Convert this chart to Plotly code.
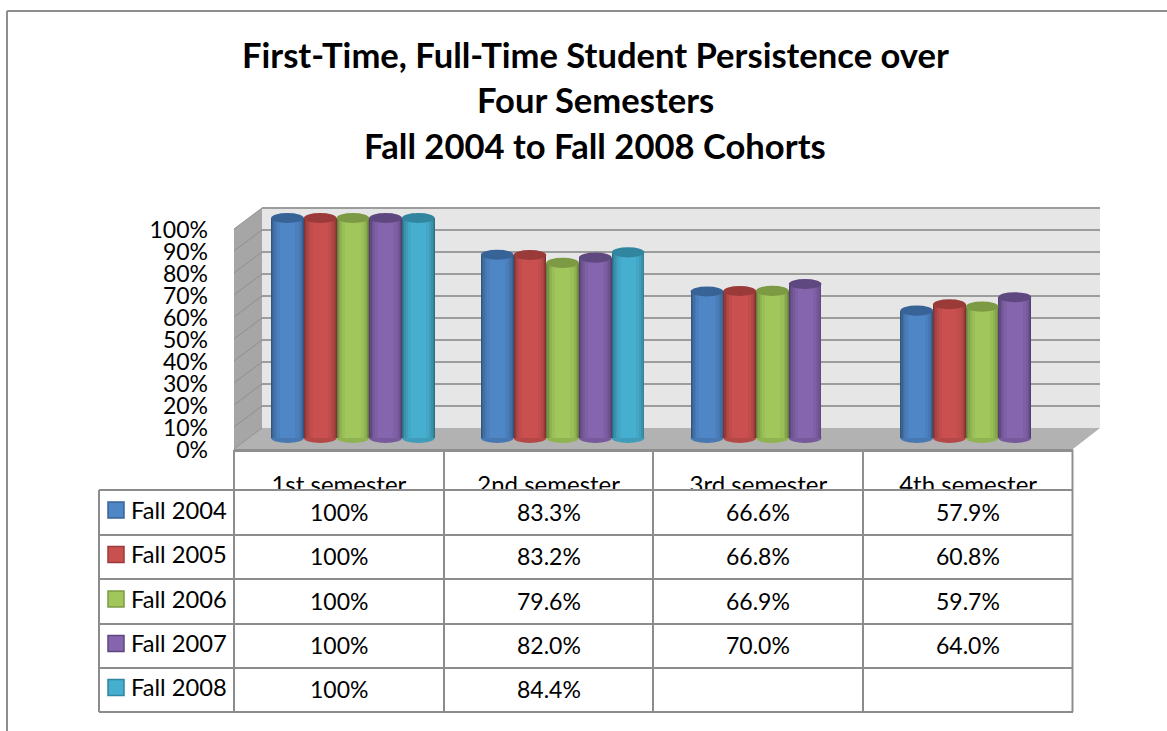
import plotly.graph_objects as go

W, H = 1167, 731
FONT = "Lato"

title_lines = ["First-Time, Full-Time Student Persistence over", "Four Semesters", "Fall 2004 to Fall 2008 Cohorts"]
categories = ["1st semester", "2nd semester", "3rd semester", "4th semester"]
series_names = ["Fall 2004", "Fall 2005", "Fall 2006", "Fall 2007", "Fall 2008"]
fall_2004 = [100, 83.3, 66.6, 57.9]
fall_2005 = [100, 83.2, 66.8, 60.8]
fall_2006 = [100, 79.6, 66.9, 59.7]
fall_2007 = [100, 82.0, 70.0, 64.0]
fall_2008 = [100, 84.4, None, None]
series_values = [fall_2004, fall_2005, fall_2006, fall_2007, fall_2008]
colors = ["#4F86C6", "#C9504F", "#A1C75C", "#8465AE", "#46AFCF"]
tops = ["#386397", "#9A3B39", "#7C9A43", "#5F4880", "#31859F"]
y_ticks = list(range(0, 101, 10))

# ---- layout geometry in pixels
def px(x): return x / W
def py(y): return 1 - y / H
def darken(c, f):
    r, g, b = int(c[1:3], 16), int(c[3:5], 16), int(c[5:7], 16)
    return "#%02x%02x%02x" % (int(r * (1 - f)), int(g * (1 - f)), int(b * (1 - f)))

def line(x0, y0, x1, y1, color="#8C8C8C", width=2, layer="below"):
    return dict(type="line", xref="paper", yref="paper", x0=px(x0), y0=py(y0), x1=px(x1), y1=py(y1),
                line=dict(color=color, width=width), layer=layer)

def poly(points, fill, layer="below"):
    path = "M " + " L ".join(f"{px(x):.5f},{py(y):.5f}" for x, y in points) + " Z"
    return dict(type="path", xref="paper", yref="paper", path=path, fillcolor=fill, line=dict(width=0), layer=layer)

shapes = []
# outer frame
shapes += [line(7, 11, W, 11, "#8E8E8E", 2), line(7, 11, 7, H, "#8E8E8E", 2)]
# 3-D box
shapes.append(poly([(262, 208), (1100, 208), (1100, 428), (262, 428)], "#E6E6E6"))
shapes.append(poly([(234, 229), (262, 208), (262, 428), (234, 449)], "#A6A6A6"))
shapes.append(poly([(262, 428), (1100, 428), (1073, 449), (234, 449)], "#B2B2B2"))
shapes.append(poly([(234, 449), (1073, 449), (1073, 452), (234, 452)], "#8F8F8F"))
for i in range(1, 11):
    gy = 428 - i * 22
    shapes.append(line(262, gy, 1100, gy, "#9C9C9C", 2))
for i in range(0, 11):
    gy = 428 - i * 22
    shapes.append(line(234, gy + 21, 262, gy, "#8F8F8F", 1))

# ---- bars: cylinders built from nested shading strips
BAR_W = 32.7 / 209.7
strips = [(0.0, 1.0, 0.36), (0.03, 0.975, 0.26), (0.07, 0.945, 0.17), (0.12, 0.90, 0.10), (0.18, 0.84, 0.04), (0.27, 0.74, 0.0)]
traces = []
for s, (name, vals) in enumerate(zip(series_names, series_values)):
    left = (s - 2.5) * BAR_W
    for a, b, f in strips:
        traces.append(go.Bar(x=list(range(len(categories))), y=vals, name=name, showlegend=False,
                             width=(b - a) * BAR_W, offset=left + a * BAR_W,
                             marker=dict(color=darken(colors[s], f), line=dict(width=0)),
                             xaxis="x", yaxis="y"))
    for c, v in enumerate(vals):
        if v is None:
            continue
        x0, x1 = c + left, c + left + BAR_W
        shapes.append(dict(type="circle", xref="x", yref="y", x0=x0, x1=x1, y0=-2.3, y1=2.3,
                           fillcolor=darken(colors[s], 0.1), line=dict(width=0), layer="below"))
        shapes.append(dict(type="circle", xref="x", yref="y", x0=x0, x1=x1, y0=v - 2.3, y1=v + 2.3,
                           fillcolor=tops[s], line=dict(width=0), layer="above"))

# ---- invisible trace that carries the front-plane axes (value labels + category labels)
traces.append(go.Scatter(x=[0, 1, 2, 3], y=[0, 100, 0, 100], mode="markers", marker=dict(opacity=0),
                         showlegend=False, hoverinfo="skip", xaxis="x2", yaxis="y2"))

# ---- data table
col_x = [234, 444, 653, 863, 1072.5]
row_y = [490, 535, 579, 624, 668, 712]
TABLE_L = 99
shapes.append(poly([(TABLE_L, 490), (1073, 490), (1073, 712), (TABLE_L, 712)], "white", "above"))
for x in col_x:
    shapes.append(line(x, 450, x, 490, "#909090", 2))
    shapes.append(line(x, 490, x, 712, "#8C8C8C", 2, "above"))
shapes.append(line(TABLE_L, 490, TABLE_L, 712, "#8C8C8C", 2, "above"))
for y in row_y:
    shapes.append(line(TABLE_L, y, 1073, y, "#8C8C8C", 2, "above"))

def fmt(v):
    if v is None:
        return ""
    return f"{v:.0f}%" if v == 100 else f"{v:.1f}%"

annotations = []
def text(x, y, s, size=23, bold=False, anchor="center"):
    annotations.append(dict(xref="paper", yref="paper", x=px(x), y=py(y), text=f"<b>{s}</b>" if bold else s,
                            showarrow=False, xanchor=anchor, yanchor="middle",
                            font=dict(family=FONT, size=size, color="#000000")))

for r, name in enumerate(series_names):
    cy = (row_y[r] + row_y[r + 1]) / 2
    shapes.append(dict(type="rect", xref="paper", yref="paper", x0=px(108), x1=px(124), y0=py(cy - 2.5 - 8), y1=py(cy - 2.5 + 8) ,
                       fillcolor=colors[r], line=dict(color=tops[r], width=1.5), layer="above"))
    text(129, cy - 3, name, size=23.7, anchor="left")
    for c in range(len(categories)):
        t = fmt(series_values[r][c])
        if t:
            text((col_x[c] + col_x[c + 1]) / 2, cy - 1, t)

for i, (t, y) in enumerate(zip(title_lines, [54, 99, 145])):
    text(595, y, t, size=34.6, bold=True)

fig = go.Figure(traces)
fig.update_layout(
    width=W, height=H, autosize=False, margin=dict(l=0, r=0, t=0, b=0),
    paper_bgcolor="white", plot_bgcolor="rgba(0,0,0,0)",
    barmode="overlay", bargap=0, showlegend=False, shapes=shapes, annotations=annotations,
    font=dict(family=FONT, color="#000000"),
    # bars stand 14 px right of the front plane, on the floor of the 3-D box
    xaxis=dict(domain=[px(248), px(1087)], range=[-0.5, 3.5], visible=False, fixedrange=True, automargin=False),
    yaxis=dict(domain=[py(449), py(207)], range=[-5, 105], visible=False, fixedrange=True, automargin=False),
    # front-plane axes: carry the visible labels
    xaxis2=dict(domain=[px(234), px(1073)], range=[-0.5, 3.5], anchor="y2", side="bottom", tickmode="array",
                tickvals=list(range(len(categories))), ticktext=categories, showgrid=False, zeroline=False,
                showline=False, ticks="", ticklabelstandoff=18, automargin=False,
                tickfont=dict(family=FONT, size=24, color="#000"), fixedrange=True),
    yaxis2=dict(domain=[py(450), py(230)], range=[0, 100], anchor="x2", side="left", tickmode="array",
                tickvals=y_ticks, ticktext=[f"{v}%" for v in y_ticks], showgrid=False, zeroline=False,
                showline=False, ticks="", ticklabelstandoff=25, automargin=False,
                tickfont=dict(family=FONT, size=23, color="#000"), fixedrange=True),
)
fig.write_html("out.html", config=dict(displayModeBar=False), post_script="document.body.style.margin='0';")
